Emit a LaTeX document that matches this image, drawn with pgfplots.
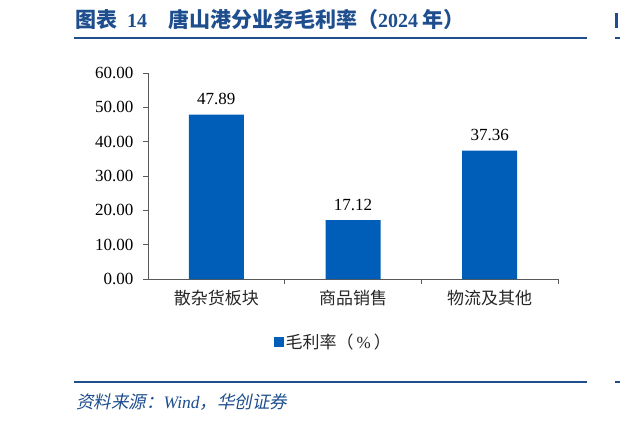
\documentclass[border=0pt]{standalone}
\usepackage{fontspec}
\setmainfont{Liberation Serif}
\newfontfamily\cjk{Noto Sans CJK SC}
\newfontfamily\cjkit{Noto Sans CJK SC}[FakeSlant=0.2]
\usepackage{pgfplots}
\pgfplotsset{compat=1.18}
\definecolor{barblue}{HTML}{005EB8}
\definecolor{titleblue}{HTML}{1E4E8E}
\definecolor{axisgray}{HTML}{595959}

\begin{document}
\begin{tikzpicture}[x=1pt,y=1pt]
\path[use as bounding box] (0,0) rectangle (620,423);

% title and rules
\node[anchor=west, inner sep=0, text=titleblue, font=\fontsize{20}{20}\selectfont\bfseries]
  at (75,403) {{\cjk\fontsize{21}{21}\selectfont 图表}\hspace{10pt}14\hspace{21pt}{\cjk\fontsize{21}{21}\selectfont 唐山港分业务毛利率（}2024\hspace{4pt}{\cjk\fontsize{21}{21}\selectfont 年）}};
\draw[titleblue, line width=1.6] (74,385) -- (587,385);
\draw[titleblue, line width=1.6] (615,385) -- (620,385);
\fill[titleblue] (615,395) rectangle (617.5,410);
\draw[titleblue, line width=1.6] (74,41) -- (587,41);
\draw[titleblue, line width=1.6] (615,41) -- (620,41);
\node[anchor=west, inner sep=0, text=titleblue, font=\fontsize{17.5}{17.5}\selectfont]
  at (76,21) {{\cjkit 资料来源：}\textit{Wind}{\cjkit ，华创证券}};

\begin{axis}[
    at={(148pt,144pt)}, anchor=south west,
    scale only axis, width=410pt, height=206pt,
    xmin=-0.5, xmax=2.5, ymin=0, ymax=60,
    axis x line*=bottom, axis y line*=left,
    axis line style={-, axisgray, line width=0.8pt},
    clip=false,
    ytick={0,10,...,60},
    ytick pos=left,
    tick align=outside,
    major tick length=5pt,
    y tick style={axisgray, line width=0.8pt},
    /pgf/number format/fixed,
    /pgf/number format/zerofill,
    /pgf/number format/precision=2,
    /pgf/number format/assume math mode=true,
    yticklabel style={font=\fontsize{17}{17}\selectfont, text=black, xshift=-6pt},
    xtick={0,1,2},
    xticklabels={散杂货板块,商品销售,物流及其他},
    xticklabel style={font=\cjk\fontsize{17}{17}\selectfont, text=black!85, yshift=-3pt},
    x tick style={draw=none},
    extra x ticks={0.5,1.5,2.5},
    extra x tick labels={},
    extra x tick style={x tick style={draw=axisgray, line width=0.8pt}},
    legend style={at={(0.452,-0.306)}, anchor=center, draw=none, fill=none,
        font=\fontsize{17}{17}\selectfont, text=black!85},
]
\addplot[ybar, bar width=55pt, fill=barblue, draw=none,
    nodes near coords,
    point meta=y,
    every node near coord/.append style={font=\fontsize{17}{17}\selectfont, text=black,
        anchor=south, yshift=6pt},
    legend image code/.code={\fill[barblue] (0pt,-5pt) rectangle (10pt,5pt);}]
coordinates {(0,47.89) (1,17.12) (2,37.36)};
\addlegendentry{{\cjk 毛利率（}\hspace{3pt}\%\hspace{3pt}{\cjk ）}}
\end{axis}
\end{tikzpicture}
\end{document}
